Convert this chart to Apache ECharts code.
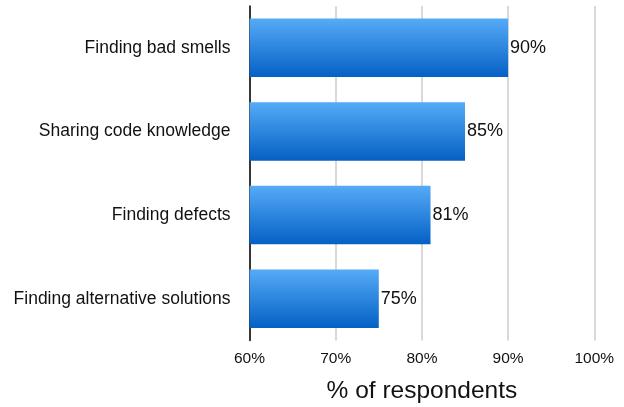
<!DOCTYPE html>
<html><head><meta charset="utf-8">
<script src="https://cdn.jsdelivr.net/npm/echarts@6/dist/echarts.min.js"></script>
<style>html,body{margin:0;padding:0;background:#fff}#c{width:624px;height:407px}</style>
</head><body><div id="c"></div>
<script>
const categories = ["Finding alternative solutions", "Finding defects", "Sharing code knowledge", "Finding bad smells"];
const values = [75, 81, 85, 90];
const tickLabels = ["60%", "70%", "80%", "90%", "100%"];
const axisTitle = "% of respondents";

const chart = echarts.init(document.getElementById('c'));
const font = "'Liberation Sans', Arial, Helvetica, sans-serif";
chart.setOption({
  animation: false,
  grid: { left: 249.5, right: 29.7, top: 6, bottom: 66.5, containLabel: false, outerBoundsMode: 'none' },
  xAxis: {
    type: 'value', min: 60, max: 100, interval: 10,
    axisLine: { show: false },
    axisTick: { show: false },
    splitLine: { show: true, lineStyle: { color: '#cccccc', width: 1.5 } },
    axisLabel: { formatter: v => tickLabels[(v - 60) / 10], color: '#111', fontSize: 15.5, fontFamily: font, margin: 10 },
    name: axisTitle, nameLocation: 'middle', nameGap: 38.5,
    nameTextStyle: { fontSize: 24.5, color: '#111', fontFamily: font }
  },
  yAxis: {
    type: 'category', data: categories,
    axisLine: { show: true, lineStyle: { color: '#000', width: 1.5 } },
    axisTick: { show: false },
    axisLabel: { color: '#111', fontSize: 17.5, fontFamily: font, margin: 19 }
  },
  series: [{
    type: 'bar', data: values, barCategoryGap: '30%',
    itemStyle: {
      color: new echarts.graphic.LinearGradient(0, 0, 0, 1, [
        { offset: 0, color: '#56abf7' },
        { offset: 1, color: '#0460c4' }
      ])
    },
    label: { show: true, position: 'right', distance: 2, formatter: p => p.value + '%', color: '#111', fontSize: 18, fontFamily: font }
  }]
});
</script></body></html>
